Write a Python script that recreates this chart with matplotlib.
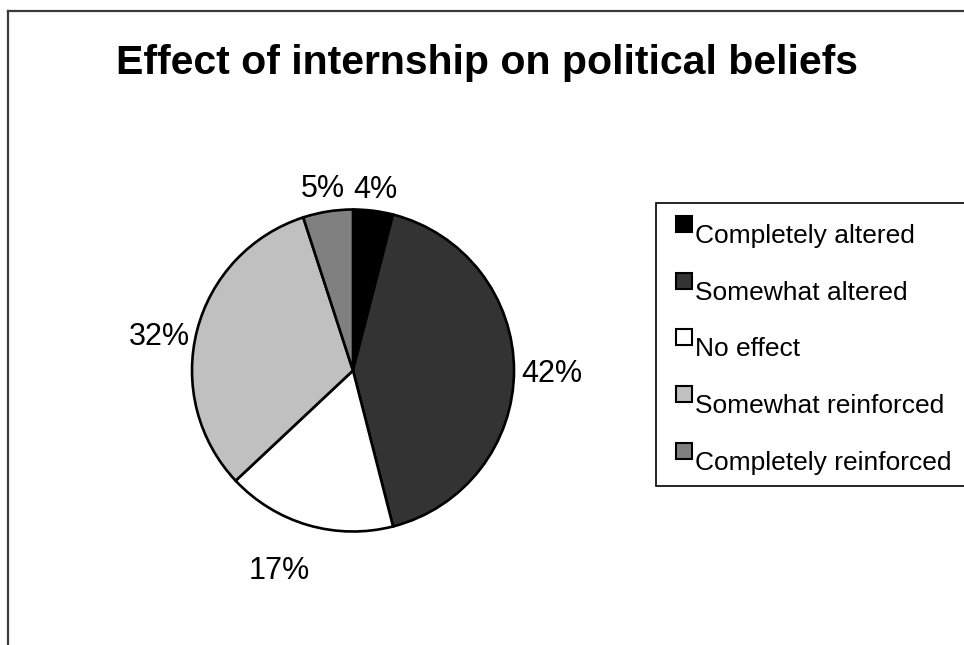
import matplotlib
matplotlib.use("Agg")
import matplotlib.pyplot as plt
from matplotlib.patches import Rectangle
import numpy as np

plt.rcParams['font.family'] = ['Liberation Sans', 'DejaVu Sans']

title = "Effect of internship on political beliefs"
categories = ["Completely altered", "Somewhat altered", "No effect",
              "Somewhat reinforced", "Completely reinforced"]
percentages = [4, 42, 17, 32, 5]
colors = ["#000000", "#333333", "#ffffff", "#c0c0c0", "#808080"]

W, H = 964, 645
fig = plt.figure(figsize=(W / 100, H / 100), dpi=100)


def fx(x):
    return x / W


def fy(y):
    return 1 - y / H


# outer chart-area frame (open on the right and bottom)
fig.add_artist(plt.Line2D([fx(8), fx(8)], [fy(11), fy(H + 5)], color="#3a3a3a", lw=1.6))
fig.add_artist(plt.Line2D([fx(8), fx(W + 5)], [fy(11), fy(11)], color="#3a3a3a", lw=1.6))

fig.text(fx(487), fy(63), title, ha="center", va="center",
         fontsize=29.5, fontweight="bold")

# pie area
cx, cy, r = 353, 370.5, 161
ax = fig.add_axes([fx(cx - r), fy(cy + r), 2 * r / W, 2 * r / H])

wedges, texts = ax.pie(percentages, colors=colors, startangle=90, counterclock=False,
                       radius=1, labels=[f"{p}%" for p in percentages],
                       labeldistance=1.2,
                       wedgeprops=dict(edgecolor="black", linewidth=1.9),
                       textprops=dict(fontsize=22))
ax.set_xlim(-1, 1)
ax.set_ylim(-1, 1)
ax.axis("off")

label_dist = [1.13, 1.234, 1.33, 1.22, 1.14]
label_shift = [0, -1, -4, 4.5, 0.5]
for w, t, d, s in zip(wedges, texts, label_dist, label_shift):
    ang = np.deg2rad((w.theta1 + w.theta2) / 2 + s)
    t.set_position((d * np.cos(ang), d * np.sin(ang)))
    t.set_ha("center")
    t.set_va("center")
    t.set_clip_on(False)

# legend
box_left, box_top, box_bottom = 656, 203, 486
fig.add_artist(Rectangle((fx(box_left), fy(box_bottom)), fx(W + 20 - box_left),
                         (box_bottom - box_top) / H, transform=fig.transFigure,
                         facecolor="white", edgecolor="black", lw=1.2))
for i, (name, col) in enumerate(zip(categories, colors)):
    top = 216 + i * 56.7
    fig.add_artist(Rectangle((fx(676), fy(top + 16)), 16 / W, 16 / H,
                             transform=fig.transFigure, facecolor=col,
                             edgecolor="black", lw=1.5))
    fig.text(fx(695), fy(top + 27), name, ha="left", va="baseline", fontsize=19)

fig.savefig("out.png", dpi=100)
